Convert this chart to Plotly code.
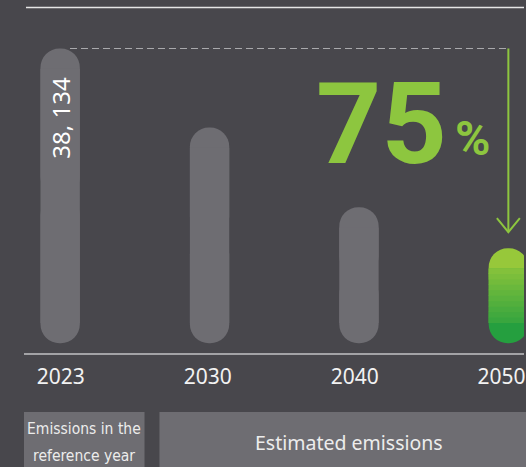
import plotly.graph_objects as go

# ---------------- data ----------------
years = ["2023", "2030", "2040", "2050"]
emissions = [38134, 27900, 17600, 12300]
reduction_value = "75"
reduction_unit = "%"
box_left_lines = ["Emissions in the", "reference year"]
box_right_text = "Estimated emissions"

# ---------------- layout constants ----------------
W, H = 526, 467
ML, MR, MT, MB = 24, 0, 8, 114
PW = W - ML - MR
PH = H - MT - MB

BG = "#48474c"
GRAY = "#6e6d72"
BOX = "#6e6d72"
GREEN = "#8dc63f"
GRAD_TOP = (166, 206, 57)
GRAD_BOT = (22, 153, 64)
TXT = "#f2f2f2"
NARROW = "DejaVu Sans Condensed"

# vertical scale: zero sits ~9.7px above plot bottom, first bar top 40.5px below plot top
zero_px = 9.7
top_gap_px = 40.5
upp = emissions[0] / (PH - zero_px - top_gap_px)   # data units per pixel
ymin = -zero_px * upp
ymax = emissions[0] + top_gap_px * upp

# horizontal scale: 150px per category, first centre 36.3px from left edge
slot_px = 150.0
first_px = 36.3
xmin = -first_px / slot_px
xmax = xmin + PW / slot_px
bar_px = 39.5
BW = bar_px / slot_px
rad_units = (bar_px / 2 + 0.5) * upp

idx = list(range(len(years)))
n = len(years)
half = [v / 2 for v in emissions]


def mix(t):
    c = [round(GRAD_TOP[i] + (GRAD_BOT[i] - GRAD_TOP[i]) * t) for i in range(3)]
    return "rgb(%d,%d,%d)" % tuple(c)


last = emissions[-1]
last_px = last / upp
cols_lower = [GRAY] * (n - 1) + [mix(1 - 10 / last_px)]
cols_upper = [GRAY] * (n - 1) + [mix(10 / last_px)]
cols_mid = [GRAY] * (n - 1) + [mix(0.5)]

fig = go.Figure()
# bottom halves (rounded at the bottom end)
fig.add_trace(go.Bar(x=idx, y=[-h for h in half], base=half, width=BW,
                     marker=dict(color=cols_lower, cornerradius="50%", line_width=0),
                     hoverinfo="skip"))
# top halves (rounded at the top end)
fig.add_trace(go.Bar(x=idx, y=half, base=half, width=BW,
                     marker=dict(color=cols_upper, cornerradius="50%", line_width=0),
                     hoverinfo="skip"))
# straight middle section covering the seam
fig.add_trace(go.Bar(x=idx, y=[v - 2 * rad_units for v in emissions], base=[rad_units] * n,
                     width=BW, marker=dict(color=cols_mid, line_width=0), hoverinfo="skip"))
# gradient slices for the 2050 bar
K = 10
span = last - 2 * rad_units
sl = span / K
g_x, g_base, g_y, g_col = [], [], [], []
for k in range(K):
    b = rad_units + k * sl
    centre_px = (b + sl / 2) / upp
    g_x.append(idx[-1])
    g_base.append(b)
    g_y.append(sl * 1.15 if k < K - 1 else sl)
    g_col.append(mix(1 - centre_px / last_px))
fig.add_trace(go.Bar(x=g_x, y=g_y, base=g_base, width=BW,
                     marker=dict(color=g_col, line_width=0), hoverinfo="skip"))

# invisible trace for the year axis
fig.add_trace(go.Scatter(x=idx, y=emissions, xaxis="x2", mode="markers",
                         marker=dict(opacity=0), hoverinfo="skip"))

lab_first_px = 37.0
lab_step = 147.5
x2min = -lab_first_px / lab_step
x2max = x2min + PW / lab_step


def px_x(p):
    return (p - ML) / PW


def px_y(p):
    return (MT + PH - p) / PH


shapes = [
    # top rule
    dict(type="line", xref="paper", yref="paper", x0=px_x(26), x1=1, y0=px_y(7.5), y1=px_y(7.5),
         line=dict(color="#e6e6e6", width=1.5)),
    # dashed reference line
    dict(type="line", xref="x", yref="y", x0=idx[0] + BW * 0.25, x1=idx[-1],
         y0=emissions[0], y1=emissions[0], layer="below",
         line=dict(color="#a9a9ac", width=1.2, dash="7px,4px")),
    # arrow shaft
    dict(type="line", xref="x", yref="y", x0=idx[-1], x1=idx[-1],
         y0=emissions[0], y1=last + 16 * upp, line=dict(color=GREEN, width=2)),
    # arrow head
    dict(type="path", xref="x", yref="y", xsizemode="pixel", ysizemode="pixel",
         xanchor=idx[-1], yanchor=last + 16 * upp,
         path="M -11.5,14 L 0,0 L 11.5,14", line=dict(color=GREEN, width=2)),
    # bottom boxes
    dict(type="rect", xref="paper", yref="paper", x0=px_x(24), x1=px_x(145),
         y0=px_y(412), y1=px_y(470), fillcolor=BOX, line_width=0),
    dict(type="rect", xref="paper", yref="paper", x0=px_x(160), x1=px_x(530),
         y0=px_y(412), y1=px_y(470), fillcolor=BOX, line_width=0),
]

annotations = [
    dict(x=idx[0], y=emissions[0], xref="x", yref="y", yshift=-69.5, xshift=-0.5,
         text=f"{emissions[0]:,}".replace(",", ", "), textangle=-90, showarrow=False,
         xanchor="center", yanchor="middle",
         font=dict(family="Noto Sans", size=24, color="#ffffff")),
    dict(x=px_x(451), y=px_y(124), xref="paper", yref="paper", text="<b>%s</b>" % reduction_value,
         showarrow=False, xanchor="right", yanchor="middle",
         font=dict(family="Roboto", size=114, color=GREEN)),
    dict(x=px_x(455), y=px_y(139), xref="paper", yref="paper", text="<b>%s</b>" % reduction_unit,
         showarrow=False, xanchor="left", yanchor="middle",
         font=dict(family="Roboto", size=48, color=GREEN)),
    dict(x=px_x(84), y=px_y(429), xref="paper", yref="paper", text=box_left_lines[0],
         showarrow=False, xanchor="center", yanchor="middle",
         font=dict(family=NARROW, size=15.5, color="#ececec")),
    dict(x=px_x(84), y=px_y(456), xref="paper", yref="paper", text=box_left_lines[1],
         showarrow=False, xanchor="center", yanchor="middle",
         font=dict(family=NARROW, size=15.5, color="#ececec")),
    dict(x=px_x(350), y=px_y(442), xref="paper", yref="paper", text=box_right_text,
         showarrow=False, xanchor="center", yanchor="middle",
         font=dict(family="Noto Sans", size=19.5, color="#ececec")),
]

fig.update_layout(
    width=W, height=H,
    margin=dict(l=ML, r=MR, t=MT, b=MB),
    paper_bgcolor=BG, plot_bgcolor=BG,
    barmode="overlay", showlegend=False, hovermode=False,
    xaxis=dict(range=[xmin, xmax], showticklabels=False, showgrid=False, zeroline=False,
               showline=True, linecolor="#a3a3a6", linewidth=1.5, ticks=""),
    xaxis2=dict(range=[x2min, x2max], overlaying="x", side="bottom", anchor="y",
                tickvals=idx, ticktext=years, showgrid=False, zeroline=False, showline=False,
                ticks="", ticklabelstandoff=9, ticklabeloverflow="allow",
                tickfont=dict(family="Noto Sans", size=21, color=TXT)),
    yaxis=dict(range=[ymin, ymax], visible=False),
    shapes=shapes, annotations=annotations,
)

fig.write_html(
    "out.html",
    config={"displayModeBar": False, "staticPlot": True},
    post_script="document.body.style.margin='0';document.body.style.overflow='hidden';"
                "document.body.style.background='%s';" % BG,
)
